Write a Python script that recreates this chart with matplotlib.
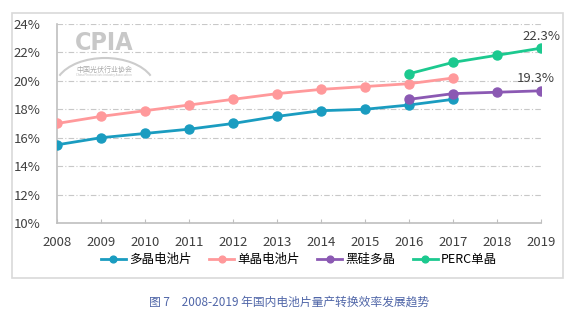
import matplotlib.pyplot as plt
from matplotlib.patches import Rectangle, Arc

plt.rcParams['font.family'] = ['Noto Sans CJK SC', 'DejaVu Sans']

years = [2008, 2009, 2010, 2011, 2012, 2013, 2014, 2015, 2016, 2017, 2018, 2019]

poly_years = [2008, 2009, 2010, 2011, 2012, 2013, 2014, 2015, 2016, 2017]
poly = [15.5, 16.0, 16.3, 16.6, 17.0, 17.5, 17.9, 18.0, 18.3, 18.7]

mono_years = [2008, 2009, 2010, 2011, 2012, 2013, 2014, 2015, 2016, 2017]
mono = [17.0, 17.5, 17.9, 18.3, 18.7, 19.1, 19.4, 19.6, 19.8, 20.2]

black_years = [2016, 2017, 2018, 2019]
black = [18.7, 19.1, 19.2, 19.3]

perc_years = [2016, 2017, 2018, 2019]
perc = [20.5, 21.3, 21.8, 22.3]

W, H = 579, 334
fig = plt.figure(figsize=(W / 100, H / 100), dpi=100)
ax = fig.add_axes([57 / W, 1 - 223 / H, (541 - 57) / W, (223 - 24) / H])

# outer frame
fig.patches.append(Rectangle((12 / W, 1 - 278 / H), (563 - 12) / W, (278 - 13) / H,
                             transform=fig.transFigure, fill=False,
                             edgecolor='#d9d9d9', linewidth=1.2))

series = [
    (poly_years, poly, '#1a9cc0', '多晶电池片'),
    (mono_years, mono, '#ff999b', '单晶电池片'),
    (black_years, black, '#8b59b3', '黑硅多晶'),
    (perc_years, perc, '#1cc98f', 'PERC单晶'),
]
for x, y, c, name in series:
    ax.plot(x, y, color=c, linewidth=2, marker='o', markersize=6.5, label=name, zorder=3)

ax.annotate('22.3%', (perc_years[-1], perc[-1]), xytext=(0, 4), textcoords='offset points',
            ha='center', va='bottom', fontsize=9.5, color='#404040')
ax.annotate('19.3%', (black_years[-1], black[-1]), xytext=(-4, 4), textcoords='offset points',
            ha='center', va='bottom', fontsize=9.5, color='#404040')

ax.set_xlim(2008, 2019)
ax.set_ylim(10, 24)
ax.set_xticks(years)
ax.set_yticks(range(10, 25, 2))
ax.set_yticklabels([f'{v}%' for v in range(10, 25, 2)])
ax.tick_params(axis='x', direction='in', length=3, color='#bfbfbf', labelsize=9.5,
               labelcolor='#404040', pad=9)
ax.tick_params(axis='y', length=0, labelsize=9.5, labelcolor='#404040', pad=12)
ax.grid(axis='y', color='#c8c8c8', linestyle=(0, (5, 2, 1, 2)), linewidth=0.8)
ax.set_axisbelow(True)
for s in ['top', 'right']:
    ax.spines[s].set_visible(False)
for s in ['left', 'bottom']:
    ax.spines[s].set_color('#bfbfbf')
    ax.spines[s].set_linewidth(1.2)

# watermark logo
fig.text(104 / W, 1 - 43 / H, 'CPIA', fontsize=18, fontweight='bold', fontstretch='condensed',
         color='#c8c8c8', ha='center', va='center', family='DejaVu Sans')
fig.patches.append(Arc((105 / W, 1 - 88 / H), 100 / W, 60 / H, theta1=25, theta2=155,
                       transform=fig.transFigure, color='#cccccc', linewidth=1.5))
fig.text(104 / W, 1 - 70 / H, '中国光伏行业协会', fontsize=5, color='#aaaaaa', ha='center', va='center')
fig.text(104 / W, 1 - 75 / H, 'China Photovoltaic Industry Association', fontsize=2.2,
         color='#bbbbbb', ha='center', va='center')

ax.legend(loc='upper center', bbox_to_anchor=(0.5, -0.095), ncol=4, frameon=False,
          fontsize=9, handlelength=2.0, columnspacing=1.4, handletextpad=0.25,
          markerscale=0.75)

fig.text(0.5, 1 - 302 / H, '图 7　2008-2019 年国内电池片量产转换效率发展趋势',
         ha='center', va='center', fontsize=8.5, color='#5066a8')

fig.savefig('out.png', dpi=100)
